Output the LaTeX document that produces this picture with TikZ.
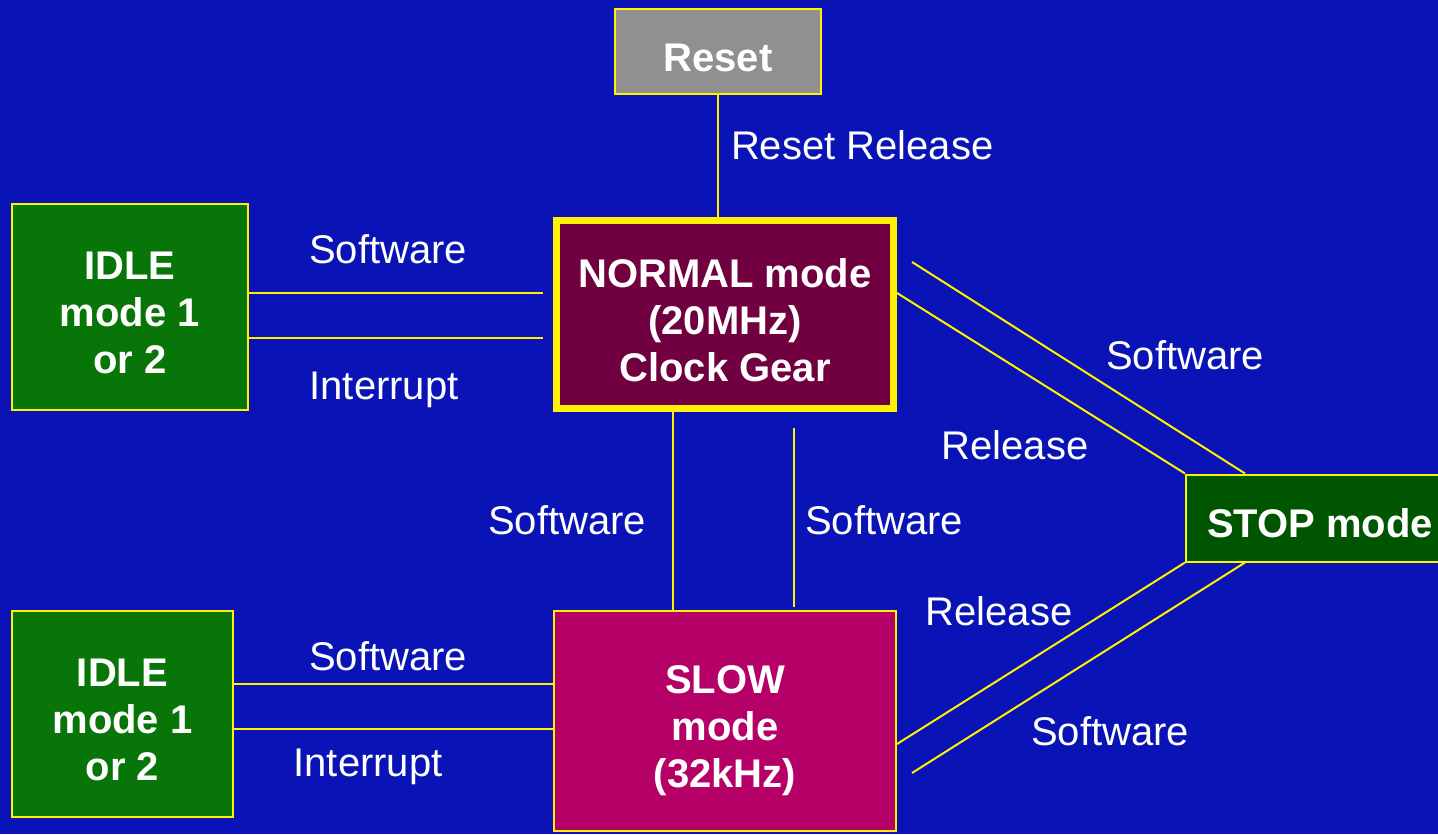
\documentclass[tikz,border=0pt]{standalone}
\usepackage{fontspec}
\setmainfont{Liberation Sans}
\definecolor{bgblue}{RGB}{10,20,182}
\definecolor{normalred}{RGB}{112,0,64}
\definecolor{slowpink}{RGB}{181,0,104}
\definecolor{idlegreen}{RGB}{7,117,7}
\definecolor{stopgreen}{RGB}{0,85,0}
\definecolor{resetgray}{RGB}{144,144,144}

\begin{document}
\begin{tikzpicture}[x=0.5pt,y=-0.5pt,
        every node/.style={text=white,font=\fontsize{20}{23.5}\selectfont,
            text height=14.3pt,text depth=0pt},
        mode/.style={draw=yellow,line width=1pt,align=center,inner sep=0pt,
            text height=24.3pt,text depth=4.5pt,
            font=\fontsize{20}{23.5}\selectfont\bfseries},
        three lines/.style={text height=71.3pt},
        wire/.style={draw=yellow,line width=1pt}]
    \clip (0,0) rectangle (1438,834);
    \fill[bgblue] (0,0) rectangle (1438,834);

    % states
    \node[mode,fill=resetgray,minimum width=103pt,minimum height=42.5pt] (reset) at (718,51.5) {Reset};
    \node[mode,three lines,fill=normalred,line width=3.5pt,minimum width=168.5pt,minimum height=94pt] (normal) at (725,314.5) {NORMAL mode\\(20MHz)\\Clock Gear};
    \node[mode,three lines,fill=idlegreen,minimum width=118pt,minimum height=103pt] (idleA) at (130,307) {IDLE\\mode 1\\or 2};
    \node[mode,three lines,fill=idlegreen,minimum width=110.5pt,minimum height=103pt] (idleB) at (122.5,714) {IDLE\\mode 1\\or 2};
    \node[mode,three lines,fill=slowpink,minimum width=171pt,minimum height=110pt] (slow) at (725,721) {SLOW\\mode\\(32kHz)};
    \node[mode,fill=stopgreen,minimum width=137pt,minimum height=43.5pt] (stop) at (1323,518) {\hspace*{-3pt}STOP mode};

    \coordinate (swA) at (912,262);
    \coordinate (swB) at (912,773);

    % transitions
    \draw[wire] (reset.south) -- (reset.south |- normal.north);
    \draw[wire,shorten >=5pt] ([yshift=7pt]idleA.east) -- ([yshift=7pt]idleA.east -| normal.west);
    \draw[wire,shorten >=5pt] ([yshift=-15.5pt]idleA.east) -- ([yshift=-15.5pt]idleA.east -| normal.west);
    \draw[wire] ([yshift=15pt]idleB.east) -- ([yshift=15pt]idleB.east -| slow.west);
    \draw[wire] ([yshift=-7.5pt]idleB.east) -- ([yshift=-7.5pt]idleB.east -| slow.west);
    \draw[wire] ([xshift=-26pt]normal.south) -- ([xshift=-26pt]normal.south |- slow.north);
    \draw[wire,shorten <=8pt,shorten >=1.5pt] ([xshift=34.5pt]normal.south) -- ([xshift=34.5pt]normal.south |- slow.north);
    \draw[wire] (stop.north west) -- ([yshift=10.75pt]normal.east);
    \draw[wire] ([xshift=30pt]stop.north west) -- (swA);
    \draw[wire] (stop.south west) -- ([yshift=-11.5pt]slow.east);
    \draw[wire] ([xshift=30pt]stop.south west) -- (swB);

    % labels
    \node[anchor=west] (lbReset) at (724,145) {Reset Release};
    \node (lbSwA) at (388,249) {Software};
    \node (lbIntA) at (384,385) {Interrupt};
    \node (lbSwDown) at (567,520) {Software};
    \node (lbSwUp) at (884,520) {Software};
    \node (lbRelN) at (1015,445) {Release};
    \node (lbSwStop) at (1185,355) {Software};
    \node (lbRelS) at (999,611) {Release};
    \node (lbSwSlow) at (1110,731) {Software};
    \node (lbSwB) at (388,656) {Software};
    \node (lbIntB) at (368,762) {Interrupt};
\end{tikzpicture}
\end{document}
